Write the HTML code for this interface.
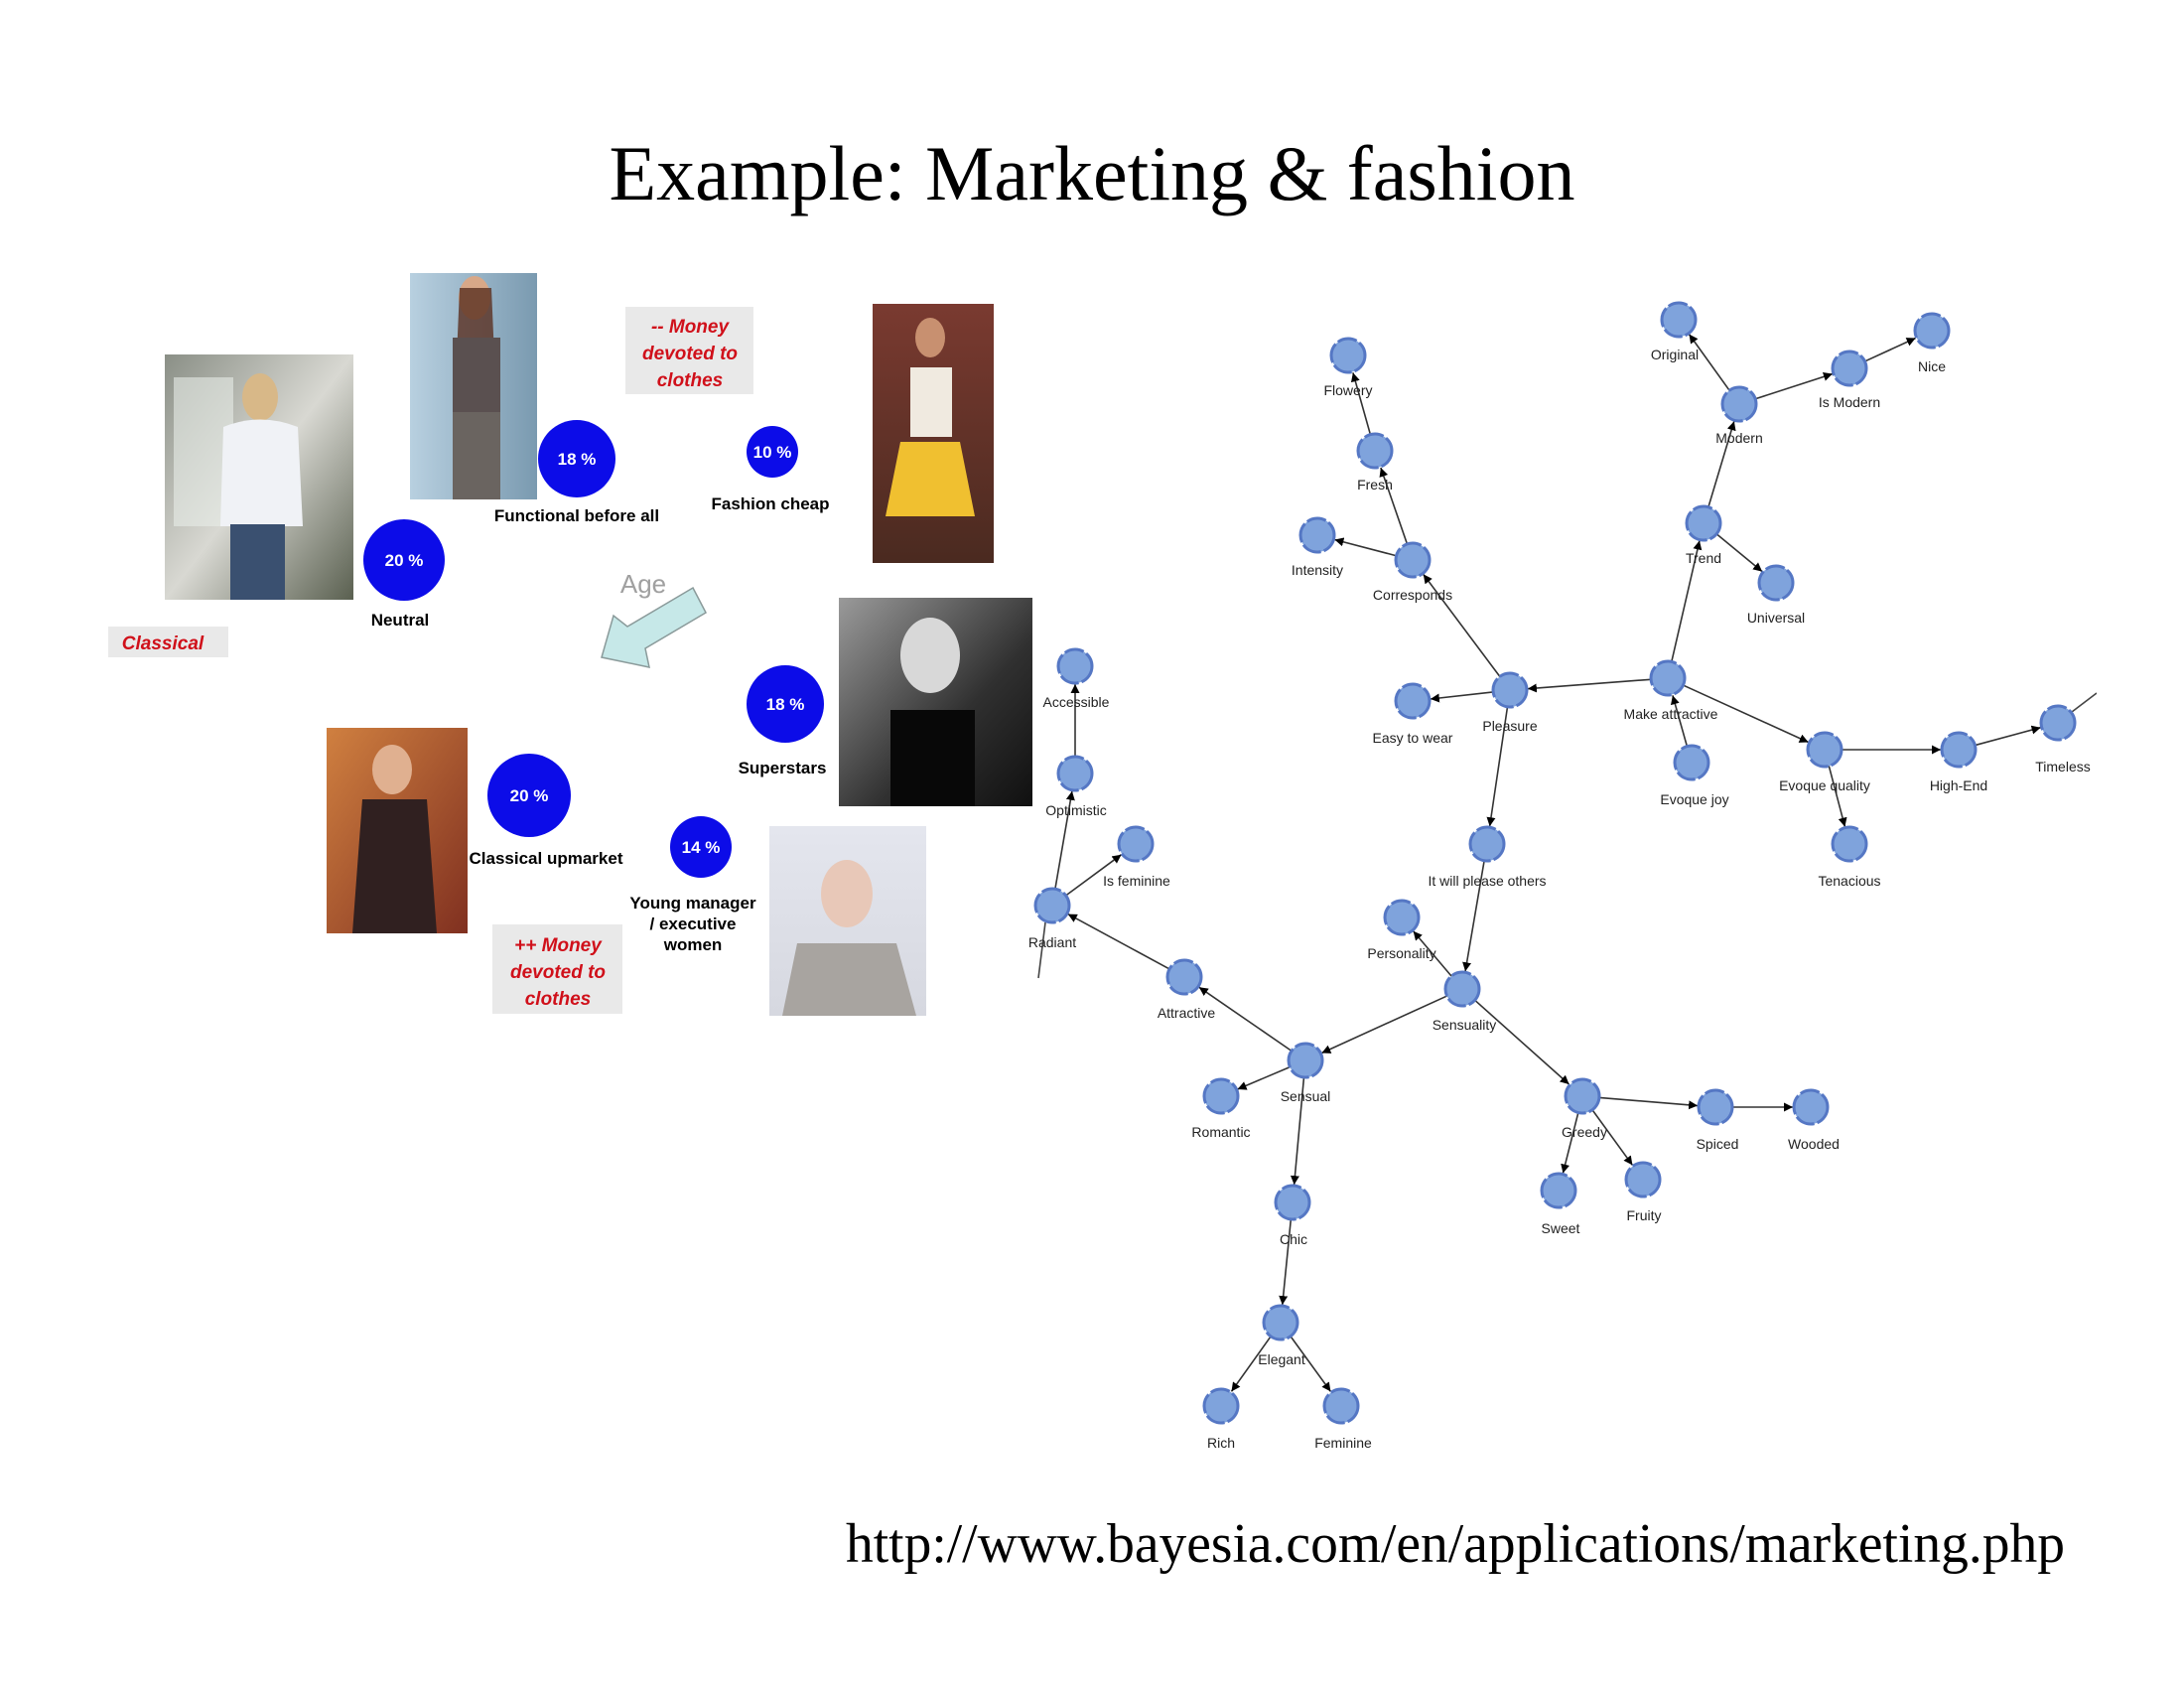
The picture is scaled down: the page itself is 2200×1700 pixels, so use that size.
<!DOCTYPE html>
<html><head><meta charset="utf-8"><style>
html,body{margin:0;padding:0;background:#fff;}
svg{display:block}
.lb{font-family:"Liberation Sans",sans-serif;font-size:14px;fill:#222;text-anchor:middle}
.bl{font-family:"Liberation Sans",sans-serif;font-size:17px;font-weight:bold;fill:#000;text-anchor:middle}
.rd{font-family:"Liberation Sans",sans-serif;font-size:19px;font-weight:bold;font-style:italic;fill:#d0101a;text-anchor:middle}
.pc{font-family:"Liberation Sans",sans-serif;font-size:17px;font-weight:bold;fill:#fff;text-anchor:middle}
</style></head><body>
<svg width="2200" height="1700" viewBox="0 0 2200 1700" xmlns="http://www.w3.org/2000/svg">
<defs>
<marker id="ar" viewBox="0 0 10 10" refX="10" refY="5" markerWidth="9" markerHeight="9" markerUnits="userSpaceOnUse" orient="auto"><path d="M0,0 L10,5 L0,10 z" fill="#000"/></marker>
<linearGradient id="g1" x1="0" y1="0" x2="1" y2="1"><stop offset="0" stop-color="#8a8f86"/><stop offset="0.5" stop-color="#d8d8d2"/><stop offset="1" stop-color="#5a6050"/></linearGradient>
<linearGradient id="g2" x1="0" y1="0" x2="1" y2="0"><stop offset="0" stop-color="#b8d0e0"/><stop offset="1" stop-color="#7a9ab0"/></linearGradient>
<linearGradient id="g3" x1="0" y1="0" x2="0" y2="1"><stop offset="0" stop-color="#7a3a30"/><stop offset="1" stop-color="#4a2a20"/></linearGradient>
<linearGradient id="g4" x1="0" y1="0" x2="1" y2="1"><stop offset="0" stop-color="#9a9a9a"/><stop offset="0.6" stop-color="#303030"/><stop offset="1" stop-color="#101010"/></linearGradient>
<linearGradient id="g5" x1="0" y1="0" x2="1" y2="1"><stop offset="0" stop-color="#d08040"/><stop offset="1" stop-color="#803020"/></linearGradient>
<linearGradient id="g6" x1="0" y1="0" x2="0" y2="1"><stop offset="0" stop-color="#e4e6ee"/><stop offset="1" stop-color="#d6d8e0"/></linearGradient>
</defs>

<text x="1100" y="201" font-family="Liberation Serif,serif" font-size="78" text-anchor="middle" textLength="973" lengthAdjust="spacingAndGlyphs">Example: Marketing &amp; fashion</text>
<text x="852" y="1573" font-family="Liberation Serif,serif" font-size="56" textLength="1228" lengthAdjust="spacingAndGlyphs">http://www.bayesia.com/en/applications/marketing.php</text>

<!-- photos -->
<rect x="166" y="357" width="190" height="247" fill="url(#g1)"/>
<rect x="175" y="380" width="60" height="150" fill="#e8ece8" opacity="0.6"/>
<ellipse cx="262" cy="400" rx="18" ry="24" fill="#d8b888"/>
<path d="M225,430 Q262,415 300,430 L305,530 L222,530 z" fill="#f0f2f6"/>
<rect x="232" y="528" width="55" height="76" fill="#3a5070"/>

<rect x="413" y="275" width="128" height="228" fill="url(#g2)"/>
<ellipse cx="478" cy="300" rx="16" ry="22" fill="#d8a888"/>
<path d="M463,290 L460,360 L498,360 L495,290 z" fill="#5a3020" opacity="0.8"/>
<rect x="456" y="340" width="48" height="75" fill="#5a5050"/>
<rect x="456" y="415" width="48" height="88" fill="#6a6460"/>

<rect x="879" y="306" width="122" height="261" fill="url(#g3)"/>
<ellipse cx="937" cy="340" rx="15" ry="20" fill="#c89070"/>
<rect x="917" y="370" width="42" height="70" fill="#f0eae0"/>
<path d="M907,445 L967,445 L982,520 L892,520 z" fill="#f0c030"/>

<rect x="845" y="602" width="195" height="210" fill="url(#g4)"/>
<ellipse cx="937" cy="660" rx="30" ry="38" fill="#d8d8d8"/>
<rect x="897" y="715" width="85" height="97" fill="#080808"/>

<rect x="329" y="733" width="142" height="207" fill="url(#g5)"/>
<ellipse cx="395" cy="775" rx="20" ry="25" fill="#e0b090"/>
<path d="M365,805 L430,805 L440,940 L355,940 z" fill="#302020"/>

<rect x="775" y="832" width="158" height="191" fill="url(#g6)"/>
<ellipse cx="853" cy="900" rx="26" ry="34" fill="#e8c8b8"/>
<path d="M803,950 L903,950 L923,1023 L788,1023 z" fill="#a8a4a0"/>

<!-- gray boxes -->
<rect x="630" y="309" width="129" height="88" fill="#e9e9e9"/>
<text class="rd" x="695" y="335">-- Money</text>
<text class="rd" x="695" y="362">devoted to</text>
<text class="rd" x="695" y="389">clothes</text>
<rect x="109" y="631" width="121" height="31" fill="#e9e9e9"/>
<text class="rd" x="164" y="654">Classical</text>
<rect x="496" y="931" width="131" height="90" fill="#e9e9e9"/>
<text class="rd" x="562" y="958">++ Money</text>
<text class="rd" x="562" y="985">devoted to</text>
<text class="rd" x="562" y="1012">clothes</text>

<!-- blue circles -->
<circle cx="581" cy="462" r="39" fill="#0c0ce8"/><text class="pc" x="581" y="468">18 %</text>
<circle cx="778" cy="455" r="26" fill="#0c0ce8"/><text class="pc" x="778" y="461">10 %</text>
<circle cx="407" cy="564" r="41" fill="#0c0ce8"/><text class="pc" x="407" y="570">20 %</text>
<circle cx="791" cy="709" r="39" fill="#0c0ce8"/><text class="pc" x="791" y="715">18 %</text>
<circle cx="533" cy="801" r="42" fill="#0c0ce8"/><text class="pc" x="533" y="807">20 %</text>
<circle cx="706" cy="853" r="31" fill="#0c0ce8"/><text class="pc" x="706" y="859">14 %</text>

<text class="bl" x="581" y="525">Functional before all</text>
<text class="bl" x="776" y="513">Fashion cheap</text>
<text class="bl" x="403" y="630">Neutral</text>
<text class="bl" x="788" y="779">Superstars</text>
<text class="bl" x="550" y="870">Classical upmarket</text>
<text class="bl" x="698" y="915">Young manager</text>
<text class="bl" x="698" y="936">/ executive</text>
<text class="bl" x="698" y="957">women</text>

<!-- Age arrow -->
<text x="648" y="597" font-family="Liberation Sans,sans-serif" font-size="26" fill="#a0a0a0" text-anchor="middle">Age</text>
<polygon points="698,592 711,617 650,653 654,672 606,662 618,620 632,631" fill="#c6e8e8" stroke="#8a9a9a" stroke-width="1.5"/>

<!-- network edges -->
<g stroke="#333" stroke-width="1.6" fill="none" marker-end="url(#ar)" id="edges"></g>
<g stroke="#444" stroke-width="1.6">
<line x1="1044" y1="909" x2="1048" y2="910"/>
<line x1="1053" y1="929" x2="1046" y2="985"/>
<line x1="2087" y1="717" x2="2112" y2="698"/>
</g>
<g id="nodes" fill="#7fa3dc" stroke="#5577c4" stroke-width="3" stroke-dasharray="20 3"></g>

<g>
<text class="lb" x="1358" y="398">Flowery</text>
<text class="lb" x="1385" y="493">Fresh</text>
<text class="lb" x="1327" y="579">Intensity</text>
<text class="lb" x="1423" y="604">Corresponds</text>
<text class="lb" x="1687" y="362">Original</text>
<text class="lb" x="1946" y="374">Nice</text>
<text class="lb" x="1863" y="410">Is Modern</text>
<text class="lb" x="1752" y="446">Modern</text>
<text class="lb" x="1716" y="567">Trend</text>
<text class="lb" x="1789" y="627">Universal</text>
<text class="lb" x="1683" y="724">Make attractive</text>
<text class="lb" x="1521" y="736">Pleasure</text>
<text class="lb" x="1423" y="748">Easy to wear</text>
<text class="lb" x="1707" y="810">Evoque joy</text>
<text class="lb" x="1838" y="796">Evoque quality</text>
<text class="lb" x="1973" y="796">High-End</text>
<text class="lb" x="2078" y="777">Timeless</text>
<text class="lb" x="1863" y="892">Tenacious</text>
<text class="lb" x="1498" y="892">It will please others</text>
<text class="lb" x="1412" y="965">Personality</text>
<text class="lb" x="1475" y="1037">Sensuality</text>
<text class="lb" x="1084" y="712">Accessible</text>
<text class="lb" x="1084" y="821">Optimistic</text>
<text class="lb" x="1145" y="892">Is feminine</text>
<text class="lb" x="1060" y="954">Radiant</text>
<text class="lb" x="1195" y="1025">Attractive</text>
<text class="lb" x="1315" y="1109">Sensual</text>
<text class="lb" x="1230" y="1145">Romantic</text>
<text class="lb" x="1303" y="1253">Chic</text>
<text class="lb" x="1291" y="1374">Elegant</text>
<text class="lb" x="1230" y="1458">Rich</text>
<text class="lb" x="1353" y="1458">Feminine</text>
<text class="lb" x="1596" y="1145">Greedy</text>
<text class="lb" x="1730" y="1157">Spiced</text>
<text class="lb" x="1827" y="1157">Wooded</text>
<text class="lb" x="1572" y="1242">Sweet</text>
<text class="lb" x="1656" y="1229">Fruity</text>
</g>
<rect x="2112" y="600" width="88" height="200" fill="#fff"/>
</svg>
<script>
var N={Flowery:[1358,358],Fresh:[1385,454],Intensity:[1327,539],Corresponds:[1423,564],Original:[1691,322],Nice:[1946,333],IsModern:[1863,371],Modern:[1752,407],Trend:[1716,527],Universal:[1789,587],Make:[1680,683],Pleasure:[1521,695],Easy:[1423,706],EJoy:[1704,768],EQ:[1838,755],High:[1973,755],Timeless:[2073,728],Ten:[1863,850],Please:[1498,850],Pers:[1412,924],Sensuality:[1473,996],Acc:[1083,671],Opt:[1083,779],IsFem:[1144,850],Radiant:[1060,912],Attr:[1193,984],Sensual:[1315,1068],Rom:[1230,1104],Chic:[1302,1211],Eleg:[1290,1332],Rich:[1230,1416],Fem:[1351,1416],Greedy:[1594,1104],Spiced:[1728,1115],Wooded:[1824,1115],Sweet:[1570,1199],Fruity:[1655,1188]};
var E=[["Make","Pleasure"],["Make","Trend"],["Make","EQ"],["EJoy","Make"],["Trend","Modern"],["Trend","Universal"],["Modern","Original"],["Modern","IsModern"],["IsModern","Nice"],["Pleasure","Corresponds"],["Pleasure","Easy"],["Pleasure","Please"],["Corresponds","Fresh"],["Corresponds","Intensity"],["Fresh","Flowery"],["EQ","High"],["EQ","Ten"],["High","Timeless"],["Please","Sensuality"],["Sensuality","Pers"],["Sensuality","Sensual"],["Sensuality","Greedy"],["Greedy","Spiced"],["Greedy","Sweet"],["Greedy","Fruity"],["Spiced","Wooded"],["Sensual","Attr"],["Sensual","Rom"],["Sensual","Chic"],["Attr","Radiant"],["Radiant","IsFem"],["Radiant","Opt"],["Opt","Acc"],["Chic","Eleg"],["Eleg","Rich"],["Eleg","Fem"]];
var ns="http://www.w3.org/2000/svg",R=17,ge=document.getElementById("edges"),gn=document.getElementById("nodes");
E.forEach(function(e){var a=N[e[0]],b=N[e[1]],dx=b[0]-a[0],dy=b[1]-a[1],d=Math.sqrt(dx*dx+dy*dy),ux=dx/d,uy=dy/d;var l=document.createElementNS(ns,"line");l.setAttribute("x1",a[0]+ux*R);l.setAttribute("y1",a[1]+uy*R);l.setAttribute("x2",b[0]-ux*(R+1));l.setAttribute("y2",b[1]-uy*(R+1));ge.appendChild(l);});
for(var k in N){var c=document.createElementNS(ns,"circle");c.setAttribute("cx",N[k][0]);c.setAttribute("cy",N[k][1]);c.setAttribute("r",R);gn.appendChild(c);}
</script>
</body></html>
